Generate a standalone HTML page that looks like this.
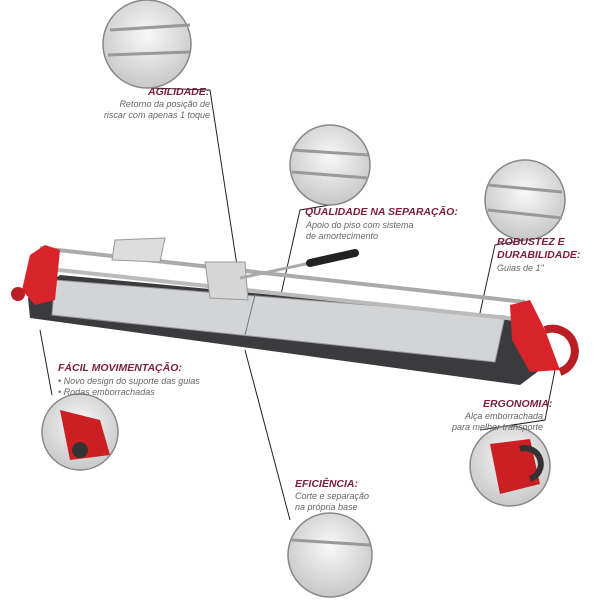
<!DOCTYPE html>
<html><head><meta charset="utf-8"><style>
body{margin:0;background:#fff;}
.t{position:absolute;font-family:"Liberation Sans",sans-serif;}
.h{font-weight:bold;font-style:italic;color:#7a1f3d;font-size:10.5px;}
.d{font-style:italic;color:#666;font-size:9px;line-height:11px;}
</style></head><body>
<div style="position:relative;width:600px;height:600px;overflow:hidden">
<svg width="600" height="600" style="position:absolute;left:0;top:0">
<defs>
<radialGradient id="g" cx="50%" cy="40%" r="60%"><stop offset="0" stop-color="#f8f8f8"/><stop offset="1" stop-color="#c8c8c8"/></radialGradient>
</defs>
<g stroke="#222" stroke-width="1" fill="none">
<polyline points="150,88 210,90 240,285"/>
<polyline points="330,205 300,210 273,330"/>
<polyline points="525,240 495,245 478,322"/>
<line x1="40" y1="330" x2="52" y2="395"/>
<line x1="245" y1="350" x2="290" y2="520"/>
<polyline points="555,370 545,420 480,430"/>
</g>
<g stroke="#888" stroke-width="1.5">
<circle cx="147" cy="44" r="44" fill="url(#g)"/>
<circle cx="330" cy="165" r="40" fill="url(#g)"/>
<circle cx="525" cy="200" r="40" fill="url(#g)"/>
<circle cx="80" cy="432" r="38" fill="url(#g)"/>
<circle cx="510" cy="466" r="40" fill="url(#g)"/>
<circle cx="330" cy="555" r="42" fill="url(#g)"/>
</g>
<g stroke="#999" stroke-width="3">
<line x1="110" y1="30" x2="190" y2="25"/><line x1="108" y1="55" x2="190" y2="52"/>
<line x1="292" y1="150" x2="368" y2="155"/><line x1="292" y1="172" x2="368" y2="178"/>
<line x1="488" y1="185" x2="562" y2="192"/><line x1="488" y1="210" x2="562" y2="218"/>
<line x1="292" y1="540" x2="370" y2="545"/>
</g>
<path d="M60,410 L100,420 L110,455 L70,460 Z" fill="#cc1f24"/>
<circle cx="80" cy="450" r="8" fill="#333"/>
<path d="M490,444 L530,439 L540,484 L500,494 Z" fill="#cc1f24"/>
<path d="M520,449 a15,15 0 1 1 10,30" stroke="#333" stroke-width="6" fill="none"/>
<polygon points="28,298 60,275 520,318 540,370 520,385 30,318" fill="#3b3b3d"/>
<polygon points="55,280 505,316 495,362 52,315" fill="#d2d4d6" stroke="#999"/>
<line x1="255" y1="295" x2="245" y2="335" stroke="#777"/>
<line x1="40" y1="248" x2="525" y2="302" stroke="#aaa" stroke-width="4"/>
<line x1="40" y1="268" x2="525" y2="320" stroke="#bbb" stroke-width="4"/>
<polygon points="115,240 165,238 160,262 112,260" fill="#ddd" stroke="#999"/>
<polygon points="205,262 245,262 248,300 210,298" fill="#d6d6d6" stroke="#999"/>
<line x1="240" y1="278" x2="315" y2="262" stroke="#aaa" stroke-width="3"/>
<line x1="310" y1="263" x2="355" y2="253" stroke="#222" stroke-width="8" stroke-linecap="round"/>
<path d="M22,290 L30,255 L45,245 L60,250 L55,300 L35,305 Z" fill="#d8232a"/>
<circle cx="18" cy="294" r="7" fill="#b81e24"/>
<path d="M510,305 L530,300 L545,330 L560,370 L530,372 L512,340 Z" fill="#d8232a"/>
<path d="M545,330 a22,22 0 1 1 15,42" stroke="#b81e24" stroke-width="8" fill="none"/>
</svg>
<div class="t h" style="left:148px;top:86px;">AGILIDADE:</div>
<div class="t d" style="left:70px;top:99px;width:140px;text-align:right">Retorno da posição de<br>riscar com apenas 1 toque</div>
<div class="t h" style="left:305px;top:206px;">QUALIDADE NA SEPARAÇÃO:</div>
<div class="t d" style="left:306px;top:220px;">Apoio do piso com sistema<br>de amortecimento</div>
<div class="t h" style="left:497px;top:236px;line-height:13px">ROBUSTEZ E<br>DURABILIDADE:</div>
<div class="t d" style="left:497px;top:263px;">Guias de 1"</div>
<div class="t h" style="left:58px;top:362px;">FÁCIL MOVIMENTAÇÃO:</div>
<div class="t d" style="left:58px;top:376px;">• Novo design do suporte das guias<br>• Rodas emborrachadas</div>
<div class="t h" style="left:483px;top:398px;">ERGONOMIA:</div>
<div class="t d" style="left:430px;top:411px;width:113px;text-align:right">Alça emborrachada<br>para melhor transporte</div>
<div class="t h" style="left:295px;top:478px;">EFICIÊNCIA:</div>
<div class="t d" style="left:295px;top:491px;">Corte e separação<br>na própria base</div>
</div>
</body></html>
